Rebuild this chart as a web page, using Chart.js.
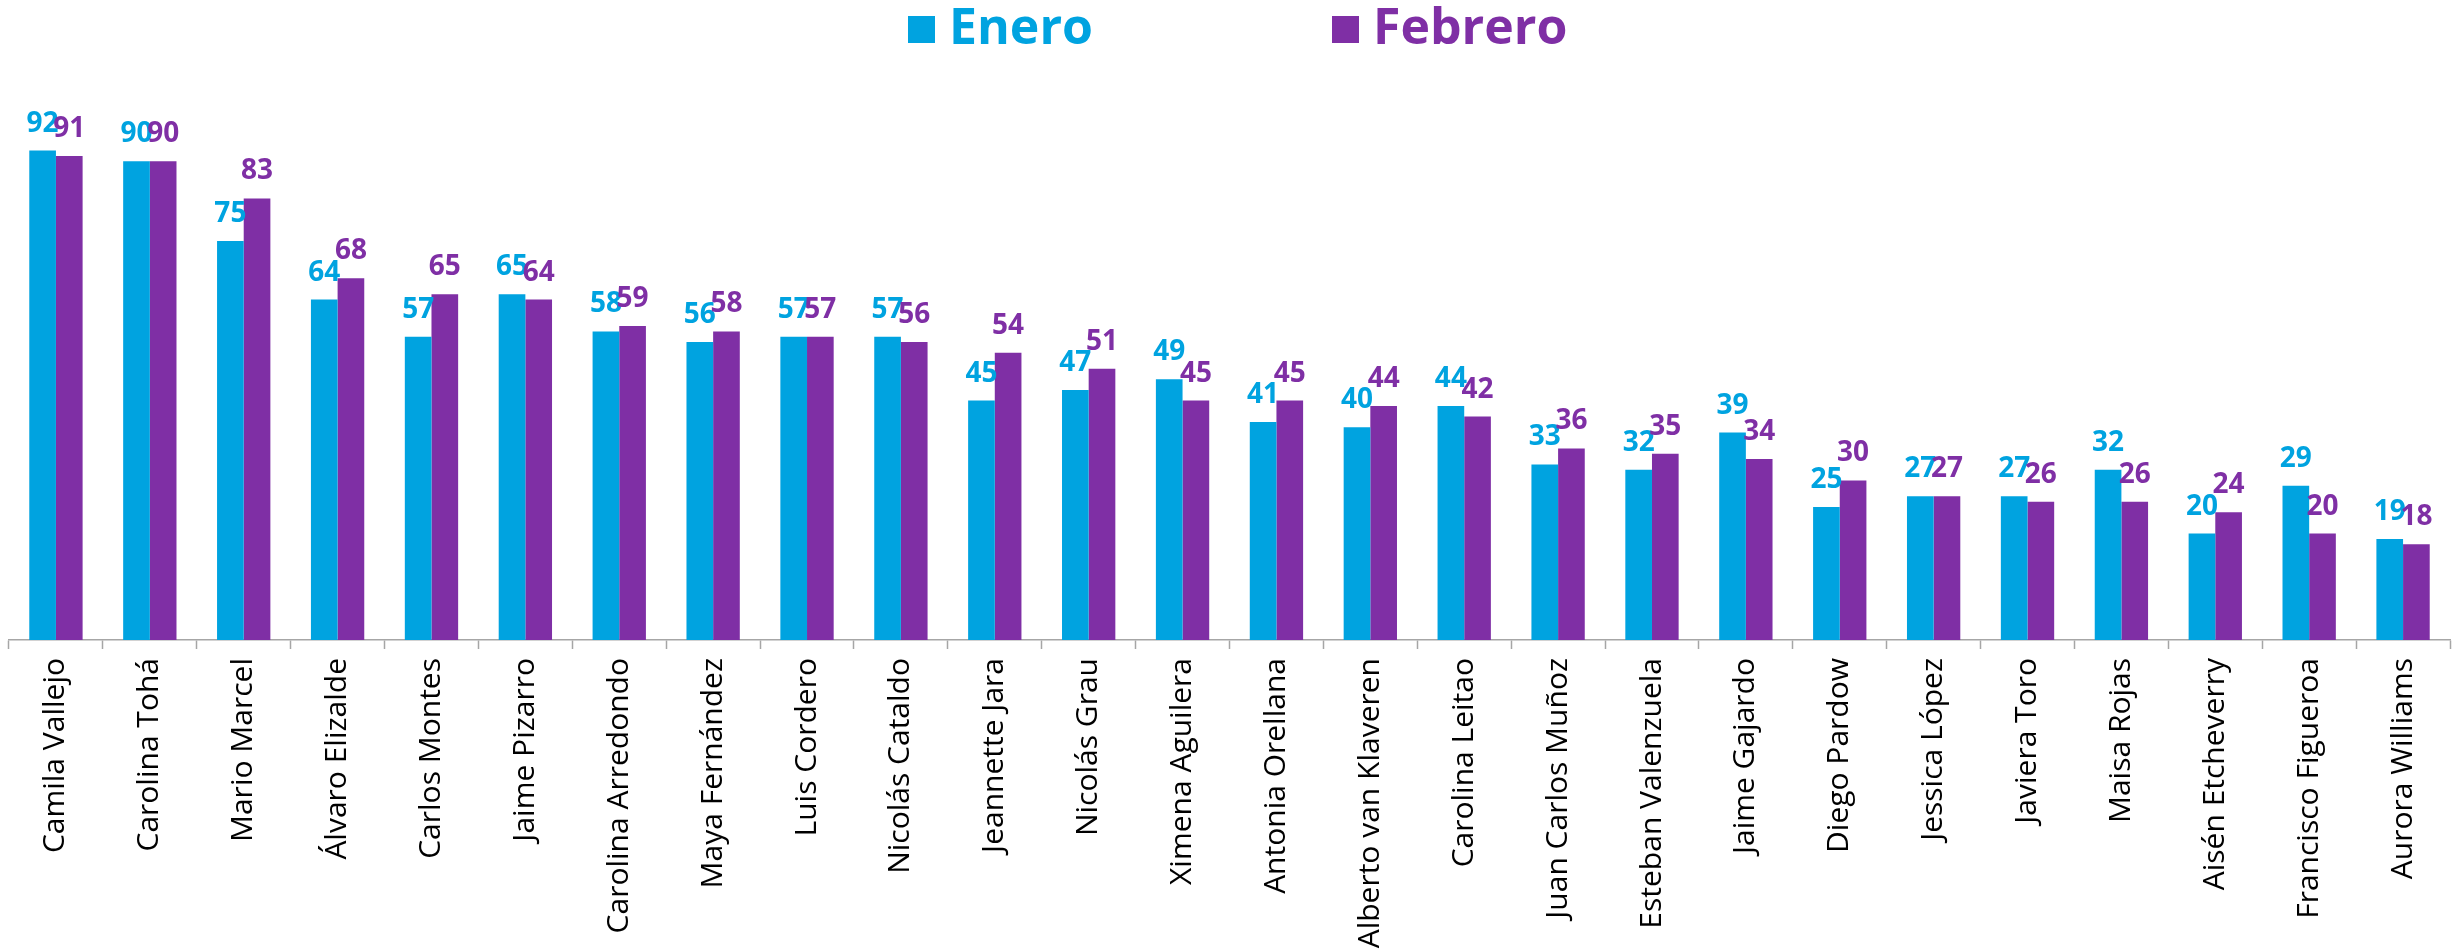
<!DOCTYPE html>
<html>
<head>
<meta charset="utf-8">
<script src="https://cdn.jsdelivr.net/npm/chart.js@4/dist/chart.umd.min.js"></script>
<style>
  html, body { margin: 0; padding: 0; background: #ffffff; }
  #wrap { width: 2453px; height: 952px; position: relative; }
</style>
</head>
<body>
<div id="wrap"><canvas id="c" width="2453" height="952"></canvas></div>
<script>
const categories = [
  "Camila Vallejo", "Carolina Tohá", "Mario Marcel", "Álvaro Elizalde", "Carlos Montes",
  "Jaime Pizarro", "Carolina Arredondo", "Maya Fernández", "Luis Cordero", "Nicolás Cataldo",
  "Jeannette Jara", "Nicolás Grau", "Ximena Aguilera", "Antonia Orellana", "Alberto van Klaveren",
  "Carolina Leitao", "Juan Carlos Muñoz", "Esteban Valenzuela", "Jaime Gajardo", "Diego Pardow",
  "Jessica López", "Javiera Toro", "Maisa Rojas", "Aisén Etcheverry", "Francisco Figueroa",
  "Aurora Williams"
];
const enero = [92, 90, 75, 64, 57, 65, 58, 56, 57, 57, 45, 47, 49, 41, 40, 44, 33, 32, 39, 25, 27, 27, 32, 20, 29, 19];
const febrero = [91, 90, 83, 68, 65, 64, 59, 58, 57, 56, 54, 51, 45, 45, 44, 42, 36, 35, 34, 30, 27, 26, 26, 24, 20, 18];
const seriesNames = ["Enero", "Febrero"];
const seriesColors = ["#00A3E0", "#7F2FA5"];

const FONT = "'Open Sans', 'Liberation Sans', sans-serif";

const valueLabels = {
  id: 'valueLabels',
  afterDatasetsDraw(chart) {
    const ctx = chart.ctx;
    ctx.save();
    ctx.font = "bold 28px " + FONT;
    ctx.textAlign = 'center';
    ctx.textBaseline = 'alphabetic';
    chart.data.datasets.forEach((ds, di) => {
      const meta = chart.getDatasetMeta(di);
      ctx.fillStyle = ds.backgroundColor;
      meta.data.forEach((el, i) => {
        ctx.fillText(String(ds.data[i]), el.x, el.y - 19);
      });
    });
    ctx.restore();
  }
};

const customLegend = {
  id: 'customLegend',
  afterDraw(chart) {
    const ctx = chart.ctx;
    const boxX = [908, 1332];
    ctx.save();
    ctx.font = "bold 50px " + FONT;
    ctx.textAlign = 'left';
    ctx.textBaseline = 'alphabetic';
    chart.data.datasets.forEach((ds, di) => {
      ctx.fillStyle = ds.backgroundColor;
      ctx.fillRect(boxX[di], 16, 27, 27);
      ctx.fillText(ds.label, boxX[di] + 41, 44);
    });
    ctx.restore();
  }
};

new Chart(document.getElementById('c'), {
  type: 'bar',
  data: {
    labels: categories,
    datasets: [
      { label: seriesNames[0], data: enero, backgroundColor: seriesColors[0], borderWidth: 0,
        categoryPercentage: 0.568, barPercentage: 1.0 },
      { label: seriesNames[1], data: febrero, backgroundColor: seriesColors[1], borderWidth: 0,
        categoryPercentage: 0.568, barPercentage: 1.0 }
    ]
  },
  options: {
    responsive: false,
    animation: false,
    layout: { padding: { top: 108, left: 9, right: 3, bottom: 0 } },
    plugins: {
      legend: { display: false },
      tooltip: { enabled: false },
      title: { display: false }
    },
    scales: {
      y: {
        display: false,
        min: 0,
        max: 100
      },
      x: {
        afterFit(scale) { scale.height = 312; },
        border: { display: true, color: '#A6A6A6', width: 1.5 },
        grid: {
          display: true,
          offset: true,
          drawOnChartArea: false,
          drawTicks: true,
          tickLength: 9,
          tickWidth: 1.5,
          color: '#A6A6A6'
        },
        ticks: {
          autoSkip: false,
          minRotation: 90,
          maxRotation: 90,
          padding: 9,
          color: '#000000',
          font: { family: FONT, size: 30, weight: 'normal' }
        }
      }
    }
  },
  plugins: [valueLabels, customLegend]
});
</script>
</body>
</html>
